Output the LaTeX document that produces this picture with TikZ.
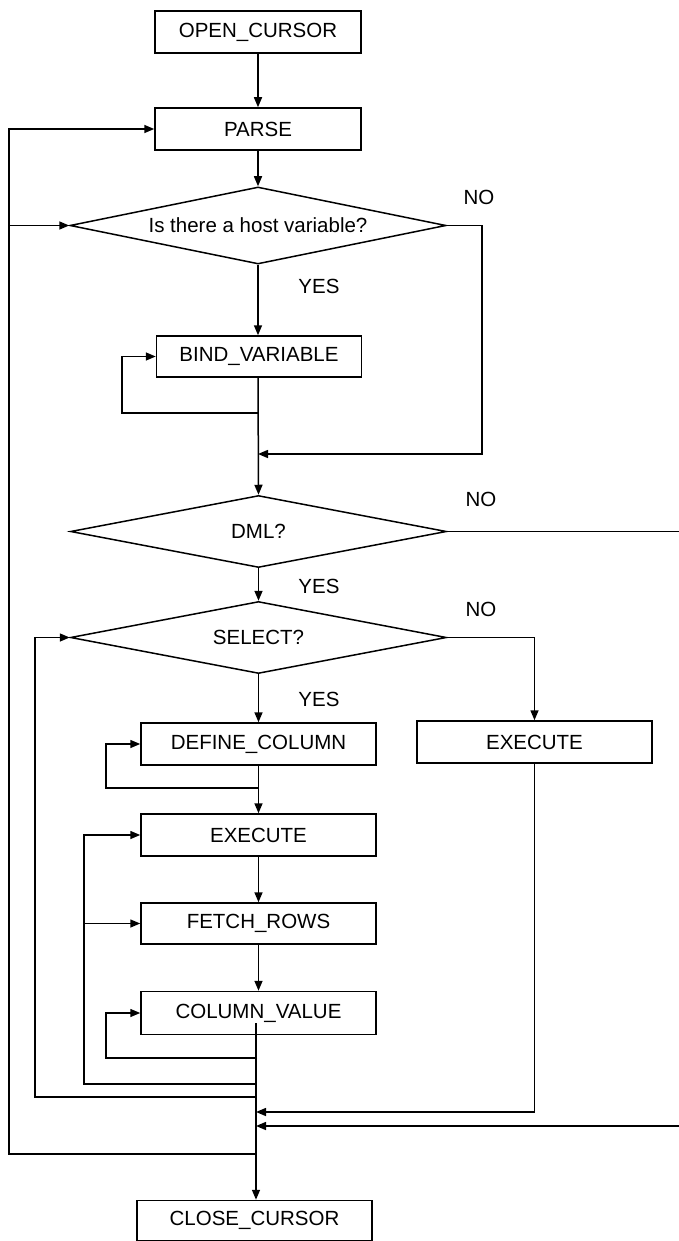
\documentclass[tikz,border=0pt]{standalone}
\usepackage{fontspec}
\setmainfont{Liberation Sans}
\usetikzlibrary{arrows.meta,shapes.geometric}
\begin{document}
\begin{tikzpicture}[x=1pt,y=-1pt,line width=1.5pt,
  txt/.style={font=\fontsize{20.5}{24}\selectfont},
  box/.style={draw,rectangle,inner sep=0pt,minimum height=42pt,txt},
  dia/.style={draw,diamond,aspect=5,inner sep=0pt,minimum width=376pt,minimum height=72pt,txt},
  lbl/.style={inner sep=0pt,txt},
  arr/.style={-{Triangle[length=10pt,width=8pt]}}]
\useasboundingbox (0,0) rectangle (678,1241);
% nodes
\node[box,minimum width=206pt] (open) at (258,32) {OPEN\_CURSOR};
\node[box,minimum width=206pt] (parse) at (258,129) {PARSE};
\node[dia,minimum height=77pt] (d1) at (258,225.5) {Is there a host variable?};
\node[box,minimum width=205pt,minimum height=41pt] (bind) at (259,356.5) {BIND\_VARIABLE};
\node[dia] (dml) at (258.5,531.5) {DML?};
\node[dia] (sel) at (258.5,637.5) {SELECT?};
\node[box,minimum width=235pt] (def) at (258.5,744) {DEFINE\_COLUMN};
\node[box,minimum width=235pt] (ex1) at (258.5,835) {EXECUTE};
\node[box,minimum width=235pt,minimum height=41pt] (fetch) at (258.5,923.5) {FETCH\_ROWS};
\node[box,minimum width=235pt,minimum height=43pt] (colv) at (258.5,1013) {COLUMN\_VALUE};
\node[box,minimum width=235pt] (ex2) at (534.5,742) {EXECUTE};
\node[box,minimum width=235pt,minimum height=40pt] (close) at (254.5,1220.5) {CLOSE\_CURSOR};
% labels
\node[lbl] (no1) at (479,197) {NO};
\node[lbl] (yes1) at (319,286) {YES};
\node[lbl] (no2) at (481,499) {NO};
\node[lbl] (yes2) at (319,586) {YES};
\node[lbl] (no3) at (481,609) {NO};
\node[lbl] (yes3) at (319,699) {YES};
% coordinates
\coordinate (sp) at (256,1023);
\coordinate (m0) at (258,454);
\coordinate (m1) at (256,1112);
\coordinate (m2) at (256,1126);
\coordinate (cb) at (258,413);
\coordinate (cd) at (258,788);
\coordinate (cc) at (257,1058);
\coordinate (c84) at (256,1084);
\coordinate (c35) at (256,1097);
\coordinate (c9) at (256,1154);
% main flow
\draw[arr] (open) -- (open |- parse.north);
\draw[arr] (parse) -- (parse |- d1.north);
\draw[arr] (d1.south) -- (d1.south |- bind.north);
\draw[arr] (d1.south |- bind.south) -- (dml.north);
\draw[arr] (dml.south) -- (sel.north);
\draw[arr] (sel.south) -- (def.north);
\draw[arr] (def.south) -- (ex1.north);
\draw[arr] (ex1) -- (fetch);
\draw[arr] (fetch) -- (colv);
\draw[arr] (sp) -- (sp |- close.north);
% self loops
\draw[arr] (cb) -- ++(-136,0) |- (bind.west);
\draw[arr] (cd) -- ++(-152,0) |- (def.west);
\draw[arr] (cc) -- ++(-151,0) |- (colv.west);
% loops back
\draw[arr] (c84) -- ++(-172,0) |- (ex1.west);
\draw[arr] (84,923.5) -- (fetch.west);
\draw[arr] (c35) -- ++(-221,0) |- (sel.west);
\draw[arr] (c9) -- ++(-247,0) |- (parse.west);
\draw[arr] (9,225.5) -- (d1.west);
% NO branches
\draw[arr] (d1.east) -- (482,225.5) |- (m0);
\draw[arr] (sel.east) -| (ex2.north);
\draw[arr] (ex2.south) |- (m1);
\draw[arr] (dml.east) -- (681,531.5) |- (m2);
\end{tikzpicture}
\end{document}
